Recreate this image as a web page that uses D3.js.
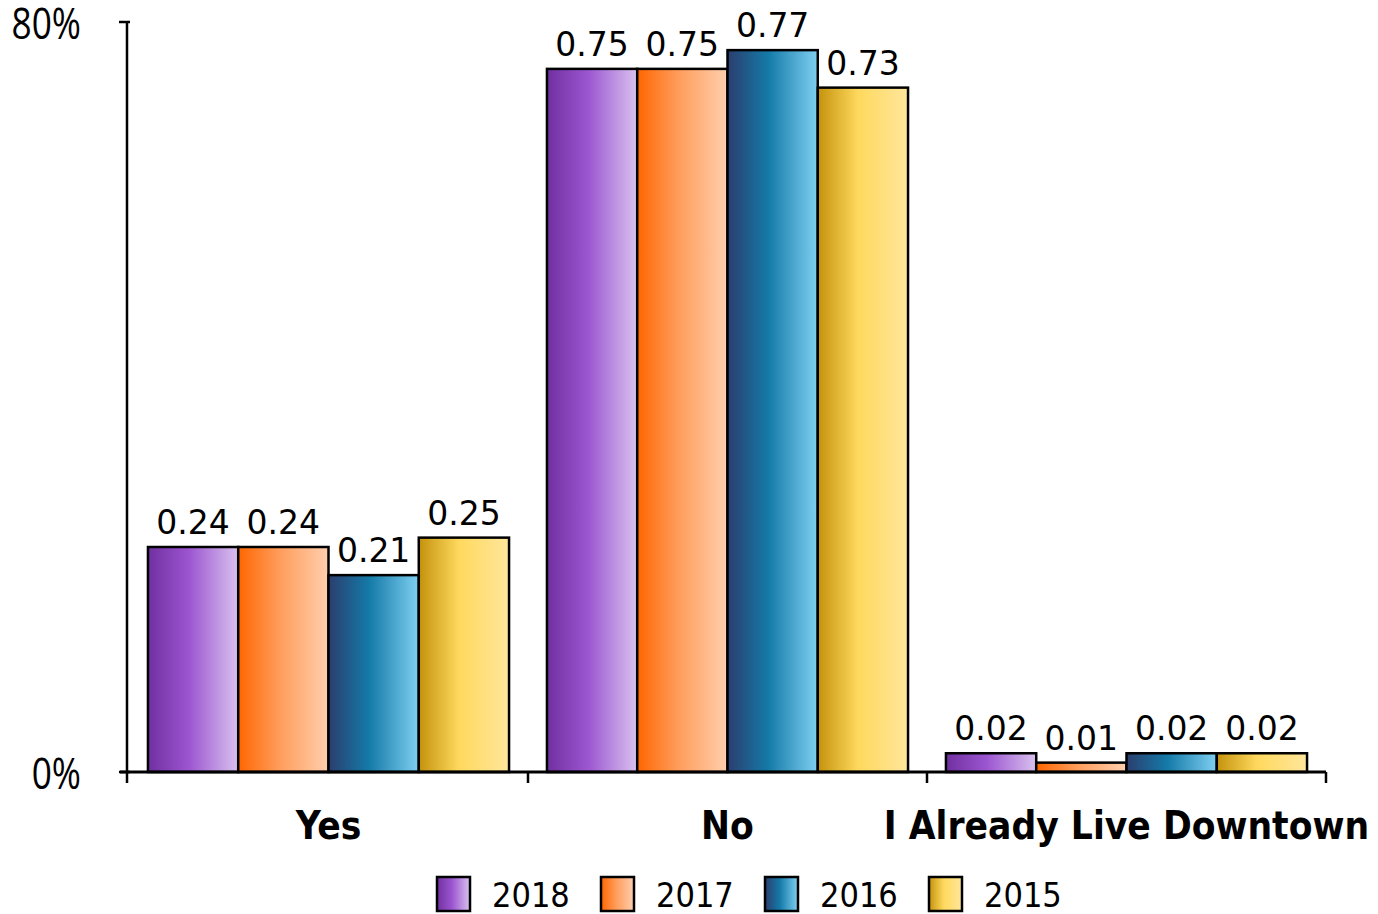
<!DOCTYPE html>
<html>
<head>
<meta charset="utf-8">
<script src="https://cdn.jsdelivr.net/npm/d3@7"></script>
<style>
  html, body { margin: 0; padding: 0; background: #fff; }
  svg { display: block; }
</style>
</head>
<body>
<script>
// Survey answers by year
const categories = ["Yes", "No", "I Already Live Downtown"];
const years = ["2018", "2017", "2016", "2015"];
const values2018 = [0.24, 0.75, 0.02];
const values2017 = [0.24, 0.75, 0.01];
const values2016 = [0.21, 0.77, 0.02];
const values2015 = [0.25, 0.73, 0.02];
const yTicks = [0, 0.8];

const seriesValues = { "2018": values2018, "2017": values2017, "2016": values2016, "2015": values2015 };

// Horizontal gradient stops per year
const gradients = {
  "2018": ["#7030a0", "#9b55d0", "#d9c2ee"],
  "2017": ["#ff6600", "#ff9c5a", "#ffcfae"],
  "2016": ["#2b3e6e", "#147aa8", "#7fd0f2"],
  "2015": ["#c4920c", "#ffd95e", "#ffe69c"]
};

const W = 1378, H = 914;
const axisX = 127;
const margin = { left: 129, right: 52, top: 22, bottom: 142 };

const svg = d3.select("body").append("svg")
  .attr("width", W).attr("height", H);

const defs = svg.append("defs");
years.forEach(y => {
  const g = defs.append("linearGradient")
    .attr("id", "grad" + y)
    .attr("x1", "0%").attr("x2", "100%").attr("y1", "0%").attr("y2", "0%");
  const c = gradients[y];
  g.append("stop").attr("offset", "0%").attr("stop-color", c[0]);
  g.append("stop").attr("offset", "45%").attr("stop-color", c[1]);
  g.append("stop").attr("offset", "100%").attr("stop-color", c[2]);
});

const x0 = d3.scaleBand()
  .domain(categories)
  .range([margin.left, W - margin.right])
  .paddingInner(0)
  .paddingOuter(0);

const x1 = d3.scaleBand()
  .domain(years)
  .range([0, x0.bandwidth()])
  .paddingOuter(0.21)
  .paddingInner(0);

const y = d3.scaleLinear()
  .domain([0, 0.8])
  .range([H - margin.bottom, margin.top]);

// Bars
const groups = svg.append("g").selectAll("g")
  .data(categories)
  .join("g")
  .attr("transform", d => `translate(${x0(d)},0)`);

groups.each(function(cat, ci) {
  const g = d3.select(this);
  years.forEach(yr => {
    const v = seriesValues[yr][ci];
    g.append("rect")
      .attr("x", x1(yr))
      .attr("y", y(v))
      .attr("width", x1.bandwidth())
      .attr("height", y(0) - y(v))
      .attr("fill", `url(#grad${yr})`)
      .attr("stroke", "#000")
      .attr("stroke-width", 2.5);
    g.append("text")
      .attr("x", x1(yr) + x1.bandwidth() / 2)
      .attr("y", y(v) - 13)
      .attr("text-anchor", "middle")
      .attr("font-family", "DejaVu Sans, sans-serif")
      .attr("font-size", 33)
      .attr("fill", "#000")
      .text(v.toFixed(2));
  });
});

// Y axis
const yAxis = svg.append("g");
yAxis.append("line")
  .attr("x1", axisX).attr("x2", axisX)
  .attr("y1", y(0.8)).attr("y2", y(0))
  .attr("stroke", "#000").attr("stroke-width", 2.5);
yAxis.selectAll("line.tick")
  .data(yTicks)
  .join("line")
  .attr("class", "tick")
  .attr("x1", axisX - 8).attr("x2", axisX + 3)
  .attr("y1", d => y(d)).attr("y2", d => y(d))
  .attr("stroke", "#000").attr("stroke-width", 2.5);
yAxis.selectAll("text")
  .data(yTicks)
  .join("text")
  .attr("x", 0).attr("y", 0)
  .attr("transform", d => `translate(81,${y(d) + 17}) scale(0.82,1)`)
  .attr("text-anchor", "end")
  .attr("font-family", "Open Sans, sans-serif")
  .attr("font-size", 43)
  .attr("fill", "#000")
  .text(d => d3.format(".0%")(d));

// X axis
const xAxis = svg.append("g");
xAxis.append("line")
  .attr("x1", axisX - 7).attr("x2", W - margin.right)
  .attr("y1", y(0)).attr("y2", y(0))
  .attr("stroke", "#000").attr("stroke-width", 3);
const boundaries = [axisX].concat(categories.slice(1).map(c => x0(c)), [W - margin.right]);
xAxis.selectAll("line.tick")
  .data(boundaries)
  .join("line")
  .attr("class", "tick")
  .attr("x1", d => d).attr("x2", d => d)
  .attr("y1", y(0)).attr("y2", y(0) + 11)
  .attr("stroke", "#000").attr("stroke-width", 2.5);
xAxis.selectAll("text")
  .data(categories)
  .join("text")
  .attr("x", d => x0(d) + x0.bandwidth() / 2)
  .attr("y", 839)
  .attr("text-anchor", "middle")
  .attr("font-family", "DejaVu Sans Condensed, DejaVu Sans, sans-serif")
  .attr("font-stretch", "condensed")
  .attr("font-weight", "bold")
  .attr("font-size", 38.5)
  .attr("fill", "#000")
  .text(d => d);

// Legend
const legend = svg.append("g")
  .attr("transform", "translate(437,877)");
const item = legend.selectAll("g")
  .data(years)
  .join("g")
  .attr("transform", (d, i) => `translate(${i * 164},0)`);
item.append("rect")
  .attr("width", 33).attr("height", 34)
  .attr("fill", d => `url(#grad${d})`)
  .attr("stroke", "#000").attr("stroke-width", 2.5);
item.append("text")
  .attr("x", 55).attr("y", 30)
  .attr("font-family", "DejaVu Sans Condensed, DejaVu Sans, sans-serif")
  .attr("font-stretch", "condensed")
  .attr("font-size", 34)
  .attr("fill", "#000")
  .text(d => d);
</script>
</body>
</html>
